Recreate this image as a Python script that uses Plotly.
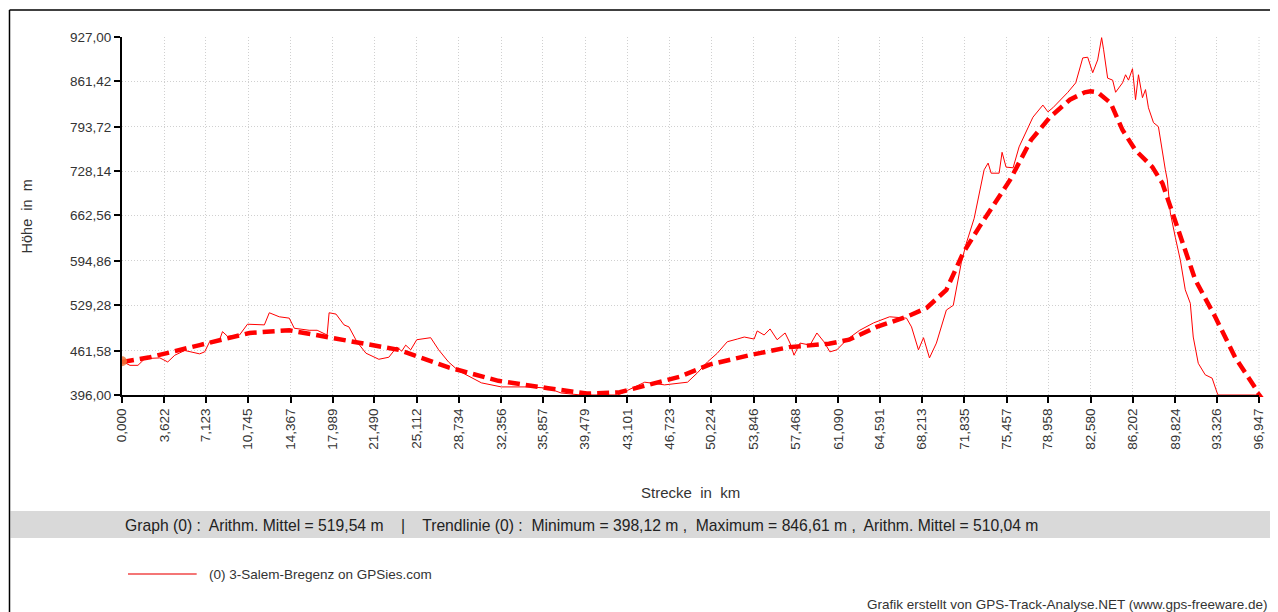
import plotly.graph_objects as go

# ---------------- data ----------------
profile_km = [0.0, 0.68, 1.36, 1.95, 3.23, 3.90, 4.50, 5.35, 6.62, 7.05, 7.47, 8.32, 8.57, 9.00,
              10.02, 10.70, 12.14, 12.56, 13.41, 14.26, 14.69, 15.96, 16.64, 17.49, 17.66, 18.25,
              18.93, 19.35, 20.03, 20.80, 21.90, 22.75, 23.43, 23.85, 24.19, 24.62, 25.13, 26.32,
              27.00, 27.84, 28.69, 30.65, 32.34, 34.89, 36.33, 37.44, 39.13, 42.27, 43.12, 44.57,
              46.26, 48.22, 49.07, 49.92, 50.76, 51.61, 52.46, 53.06, 53.90, 54.16, 54.75, 55.26,
              55.86, 56.54, 56.96, 57.30, 57.81, 58.66, 59.25, 59.85, 60.36, 60.95, 61.80, 62.90,
              64.09, 65.45, 66.89, 67.32, 67.91, 68.34, 68.85, 69.44, 70.29, 70.88, 71.56, 71.99,
              72.66, 73.01, 73.51, 73.85, 74.11, 74.79, 75.04, 75.38, 75.98, 76.49, 76.91, 77.67,
              78.52, 78.95, 79.37, 79.88, 80.65, 81.32, 81.92, 82.34, 82.77, 83.19, 83.53, 83.70,
              84.04, 84.47, 84.72, 85.31, 85.57, 85.82, 86.16, 86.42, 86.67, 87.01, 87.27, 87.52,
              87.95, 88.37, 88.71, 88.96, 89.13, 89.39, 89.81, 90.24, 90.66, 91.09, 91.34, 91.77,
              92.36, 92.95, 93.38, 93.46, 96.947]
profile_m = [446, 440, 440, 450, 451, 445, 455, 462, 457, 460, 475, 478, 490, 483,
             485, 501, 500, 518, 512, 510, 495, 492, 492, 485, 518, 516,
             500, 497, 475, 458, 449, 452, 467, 461, 470, 463, 478, 481,
             463, 445, 432, 414, 408, 408, 406, 399, 396, 396, 403, 415,
             411, 415, 429, 445, 458, 475, 479, 482, 479, 491, 485, 494,
             478, 488, 473, 455, 473, 470, 488, 475, 460, 463, 478, 492,
             503, 512, 510, 497, 463, 481, 451, 473, 522, 529, 592, 621,
             658, 690, 730, 740, 725, 725, 756, 734, 733, 764, 779, 808,
             826, 816, 822, 831, 845, 859, 896, 897, 874, 893, 926, 908,
             866, 863, 845, 859, 871, 863, 880, 834, 871, 837, 849, 822,
             800, 794, 755, 730, 715, 666, 630, 596, 552, 532, 482, 443,
             426, 421, 399, 396, 396]

trend_km = [0.0, 2.38, 6.62, 10.87, 14.26, 17.66, 23.60, 27.84, 32.09, 36.33, 39.64, 42.44,
            44.14, 47.54, 50.08, 53.48, 56.88, 60.27, 62.0, 64.35, 66.89, 68.6, 70.29, 71.73,
            73.09, 74.53, 75.72, 77.5, 79.12, 80.82, 82.09, 82.58, 83.19, 84.30, 85.31, 86.42,
            87.86, 88.71, 89.56, 89.81, 91.51, 93.21, 94.91, 96.947]
trend_m = [445, 452, 470, 488, 492, 482, 463, 437, 417, 406, 398.12, 400,
           408, 423, 441, 455, 467, 472, 478, 497, 512, 525, 552, 607,
           645, 685, 715, 774, 808, 834, 845, 846.61, 845, 829, 789, 759,
           734, 710, 666, 651, 567, 512, 452, 398]

x_ticks = [0.000, 3.622, 7.123, 10.745, 14.367, 17.989, 21.490, 25.112, 28.734, 32.356,
           35.857, 39.479, 43.101, 46.723, 50.224, 53.846, 57.468, 61.090, 64.591, 68.213,
           71.835, 75.457, 78.958, 82.580, 86.202, 89.824, 93.326, 96.947]
x_tick_labels = ["0,000", "3,622", "7,123", "10,745", "14,367", "17,989", "21,490", "25,112",
                 "28,734", "32,356", "35,857", "39,479", "43,101", "46,723", "50,224", "53,846",
                 "57,468", "61,090", "64,591", "68,213", "71,835", "75,457", "78,958", "82,580",
                 "86,202", "89,824", "93,326", "96,947"]
y_ticks = [396.00, 461.58, 529.28, 594.86, 662.56, 728.14, 793.72, 861.42, 927.00]
y_tick_labels = ["396,00", "461,58", "529,28", "594,86", "662,56", "728,14", "793,72",
                 "861,42", "927,00"]

series_name = "(0) 3-Salem-Bregenz on GPSies.com"
stats_text = ("Graph (0) :  Arithm. Mittel = 519,54 m    |    Trendlinie (0) :  Minimum = 398,12 m ,"
              "  Maximum = 846,61 m ,  Arithm. Mittel = 510,04 m")
footer_text = "Grafik erstellt von GPS-Track-Analyse.NET (www.gps-freeware.de)"

# ---------------- layout geometry ----------------
# the page body has an 8px margin, so the figure is 8px smaller and shifted
OFF = 8
W, H = 1278 - OFF, 612 - OFF
L, R, T, B = 122, 1264, 37, 395          # plot area in page pixels
PW, PH = R - L, B - T


def px(xp):
    return (xp - L) / PW


def py(yp):
    return (B - yp) / PH


FONT = "Liberation Sans, Arial, sans-serif"
GRID = "#d0d0d0"

fig = go.Figure()
fig.add_trace(go.Scatter(x=profile_km, y=profile_m, mode="lines", name=series_name,
                         line=dict(color="#ff0000", width=1), showlegend=False))
fig.add_trace(go.Scatter(x=trend_km, y=trend_m, mode="lines", name="Trendlinie (0)",
                         line=dict(color="#ff0000", width=4.5, dash="12px,6px"),
                         showlegend=False))
fig.add_trace(go.Scatter(x=[profile_km[0]], y=[profile_m[0]], mode="markers", showlegend=False,
                         marker=dict(color="rgba(240,120,60,0.85)", size=10),
                         hoverinfo="skip"))
fig.add_trace(go.Scatter(x=[trend_km[-1]], y=[396.0], mode="markers", showlegend=False,
                         marker=dict(color="#ff0000", size=8, symbol="triangle-up"),
                         hoverinfo="skip", cliponaxis=False))

axis_common = dict(showline=True, linecolor="#000000", linewidth=2, ticks="outside",
                   ticklen=6, tickwidth=1.5, tickcolor="#000000",
                   showgrid=True, gridcolor=GRID, griddash="1px,2px", gridwidth=1,
                   zeroline=False, tickfont=dict(family=FONT, size=13.5, color="#333333"))

fig.update_xaxes(range=[0, 96.947], tickvals=x_ticks, ticktext=x_tick_labels, tickangle=-90,
                 **axis_common)
fig.update_yaxes(range=[396, 927], tickvals=y_ticks, ticktext=y_tick_labels, **axis_common)

shapes = [
    # outer frame (left and top edges)
    dict(type="line", xref="paper", yref="paper", x0=px(9), x1=px(9), y0=py(10), y1=py(640),
         line=dict(color="#000000", width=1.5)),
    dict(type="line", xref="paper", yref="paper", x0=px(9), x1=px(1290), y0=py(10), y1=py(10),
         line=dict(color="#000000", width=1.5)),
    # right edge of grid
    dict(type="line", xref="paper", yref="paper", x0=1, x1=1, y0=0, y1=1,
         line=dict(color=GRID, width=1, dash="1px,2px"), layer="below"),
    # stats band
    dict(type="rect", xref="paper", yref="paper", x0=px(10), x1=px(1290), y0=py(538), y1=py(511),
         fillcolor="#d9d9d9", line=dict(width=0), layer="below"),
    # legend sample line
    dict(type="line", xref="paper", yref="paper", x0=px(128), x1=px(197), y0=py(574), y1=py(574),
         line=dict(color="#f04848", width=1.5)),
]

annotations = [
    dict(text="Höhe  in  m", xref="paper", yref="paper", x=px(27), y=py(216), textangle=-90,
         showarrow=False, font=dict(family=FONT, size=14.5, color="#333333"),
         xanchor="center", yanchor="middle"),
    dict(text="Strecke  in  km", xref="paper", yref="paper", x=px(693), y=py(492),
         showarrow=False, font=dict(family=FONT, size=15, color="#333333"),
         xanchor="center", yanchor="middle"),
    dict(text=stats_text, xref="paper", yref="paper", x=px(123), y=py(525), showarrow=False,
         font=dict(family=FONT, size=15.7, color="#222222"), xanchor="left", yanchor="middle"),
    dict(text=series_name, xref="paper", yref="paper", x=px(207), y=py(574), showarrow=False,
         font=dict(family=FONT, size=13.5, color="#333333"), xanchor="left", yanchor="middle"),
    dict(text=footer_text, xref="paper", yref="paper", x=px(1275), y=py(604), showarrow=False,
         font=dict(family=FONT, size=13.5, color="#333333"), xanchor="right", yanchor="middle"),
]

fig.update_layout(width=W, height=H,
                  margin=dict(l=L - OFF, r=1278 - R, t=T - OFF, b=612 - B, pad=0),
                  paper_bgcolor="#ffffff", plot_bgcolor="#ffffff", shapes=shapes,
                  annotations=annotations, showlegend=False,
                  font=dict(family=FONT, size=11, color="#333333"))

fig.write_html("out.html")
